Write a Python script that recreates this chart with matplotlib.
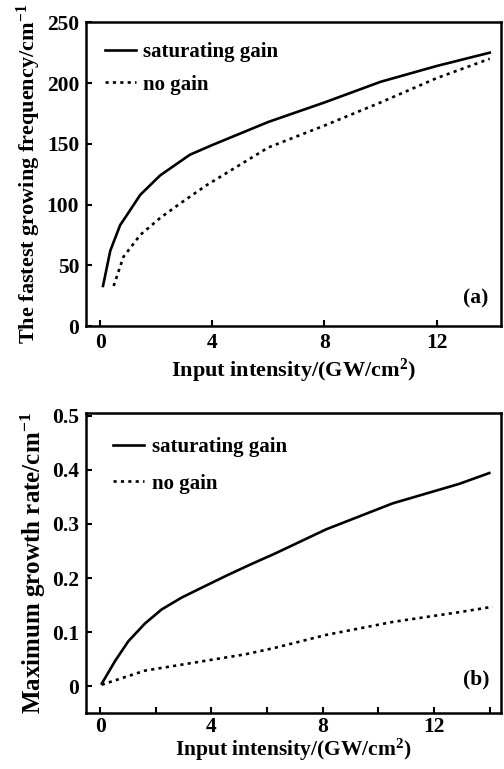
import matplotlib
matplotlib.use("Agg")
import matplotlib.pyplot as plt

# ---- panel (a): fastest growing frequency (cm^-1) vs input intensity ----
a_sat_x = [0.1, 0.36, 0.71, 1.0, 1.43, 2.14, 3.2, 4.0, 6.0, 8.0, 10.0, 12.0, 13.9]
a_sat_y = [33, 62, 83, 93, 108, 124, 141, 149, 168, 184, 201, 214, 225]
a_nog_x = [0.48, 0.83, 1.43, 2.14, 2.86, 3.8, 6.0, 8.0, 10.0, 12.0, 13.9]
a_nog_y = [33, 57, 75, 89, 101, 116, 147, 165, 184, 204, 220]

# ---- panel (b): maximum growth rate (cm^-1) vs input intensity ----
b_sat_x = [0.06, 0.54, 1.01, 1.61, 2.21, 2.93, 3.76, 4.6, 5.44, 6.27, 8.12, 10.51, 12.9, 13.98]
b_sat_y = [0.005, 0.047, 0.083, 0.116, 0.142, 0.164, 0.185, 0.206, 0.226, 0.245, 0.290, 0.338, 0.374, 0.394]
b_nog_x = [0.06, 1.61, 3.4, 5.2, 6.27, 8.12, 10.51, 12.9, 14.1]
b_nog_y = [0.003, 0.029, 0.044, 0.059, 0.071, 0.095, 0.119, 0.137, 0.147]

plt.rcParams["font.family"] = ["Liberation Serif", "DejaVu Serif"]
plt.rcParams["font.weight"] = "bold"
plt.rcParams["axes.labelweight"] = "bold"
plt.rcParams["mathtext.fontset"] = "custom"
plt.rcParams["mathtext.rm"] = "Liberation Serif:bold"
plt.rcParams["mathtext.it"] = "Liberation Serif:bold:italic"
plt.rcParams["mathtext.bf"] = "Liberation Serif:bold"

TICK_FS = 15.5
LAB_FS = 16
LEG_FS = 15
DOT = (0, (1.2, 1.6))

fig = plt.figure(figsize=(5.04, 7.69), dpi=100)
ax_a = fig.add_axes([0.171, 0.576, 0.823, 0.395])
ax_b = fig.add_axes([0.171, 0.073, 0.823, 0.390])


def style_axes(ax):
    for sp in ax.spines.values():
        sp.set_linewidth(1.8)
    ax.tick_params(which="both", direction="in", length=4, width=1.5,
                   labelsize=TICK_FS, top=False, right=False, pad=5)


# (a)
ax_a.plot(a_sat_x, a_sat_y, color="black", lw=1.9, label="saturating gain")
ax_a.plot(a_nog_x, a_nog_y, color="black", lw=1.9, ls=DOT, label="no gain")
ax_a.set_xlim(-0.5, 14.3)
ax_a.set_ylim(0, 250)
ax_a.set_xticks([0, 4, 8, 12])
ax_a.set_yticks([0, 50, 100, 150, 200, 250])
style_axes(ax_a)
ax_a.set_xlabel("Input intensity/(GW/cm$^2$)", fontsize=LAB_FS, labelpad=3)
ax_a.set_ylabel("The fastest growing frequency/cm$^{-1}$", fontsize=16, labelpad=3)
ax_a.text(0.94, 0.09, "(a)", transform=ax_a.transAxes, fontsize=TICK_FS,
          ha="center", va="center")
ax_a.legend(loc="upper left", bbox_to_anchor=(0.045, 0.935), frameon=False,
            fontsize=LEG_FS, handlelength=1.5, handletextpad=0.35,
            borderpad=0, borderaxespad=0, labelspacing=0.6)

# (b)
ax_b.plot(b_sat_x, b_sat_y, color="black", lw=1.9, label="saturating gain")
ax_b.plot(b_nog_x, b_nog_y, color="black", lw=1.9, ls=DOT, label="no gain")
ax_b.set_xlim(-0.5, 14.4)
ax_b.set_ylim(-0.049, 0.505)
ax_b.set_xticks([0, 4, 8, 12])
ax_b.set_xticks([2, 6, 10, 14], minor=True)
ax_b.set_yticks([0, 0.1, 0.2, 0.3, 0.4, 0.5])
ax_b.set_yticklabels(["0", "0.1", "0.2", "0.3", "0.4", "0.5"])
style_axes(ax_b)
ax_b.tick_params(axis="x", pad=3)
ax_b.set_xlabel("Input intensity/(GW/cm$^2$)", fontsize=15.5, labelpad=0)
ax_b.set_ylabel("Maximum growth rate/cm$^{-1}$", fontsize=18, labelpad=3)
ax_b.text(0.94, 0.11, "(b)", transform=ax_b.transAxes, fontsize=TICK_FS,
          ha="center", va="center")
ax_b.legend(loc="upper left", bbox_to_anchor=(0.065, 0.92), frameon=False,
            fontsize=LEG_FS, handlelength=1.5, handletextpad=0.35,
            borderpad=0, borderaxespad=0, labelspacing=0.8)

fig.savefig("out.png", dpi=100)
